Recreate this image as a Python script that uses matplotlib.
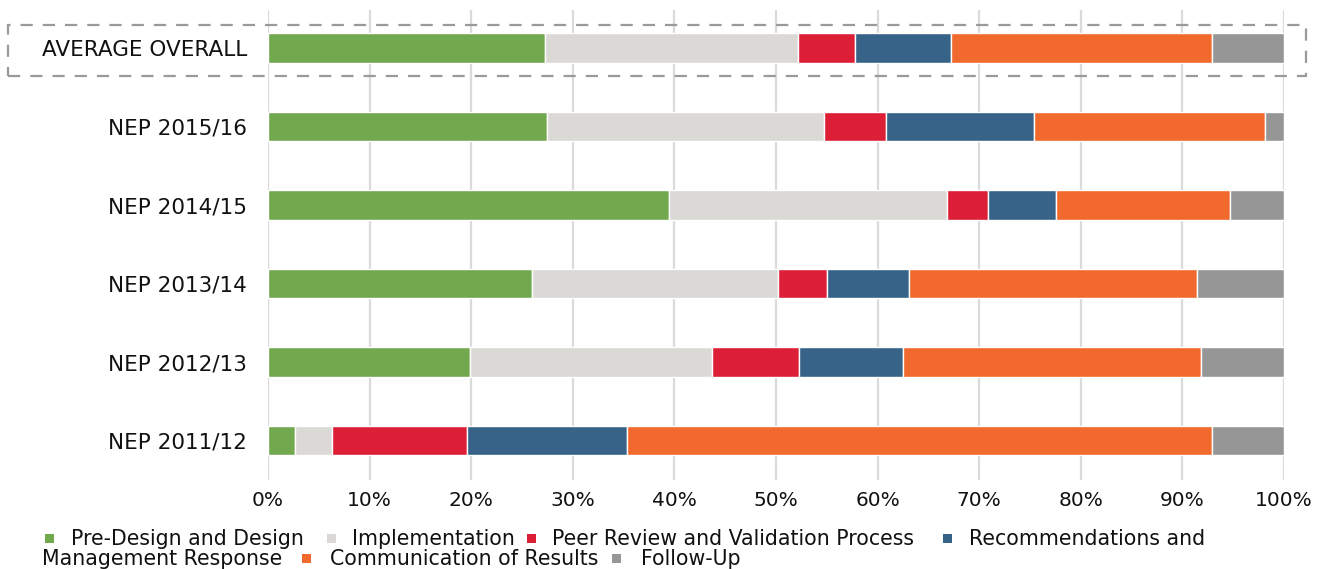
import matplotlib
matplotlib.use("Agg")
import matplotlib.pyplot as plt
from matplotlib.patches import Rectangle
import numpy as np

plt.rcParams['font.family'] = ['DejaVu Sans']

categories = ["AVERAGE OVERALL", "NEP 2015/16", "NEP 2014/15", "NEP 2013/14", "NEP 2012/13", "NEP 2011/12"]
series_names = ["Pre-Design and Design", "Implementation", "Peer Review and Validation Process",
                "Recommendations and Management Response", "Communication of Results", "Follow-Up"]
pre_design = [27.3, 27.5, 39.5, 26.0, 19.9, 2.67]
implementation = [24.85, 27.25, 27.3, 24.2, 23.8, 3.6]
peer_review = [5.65, 6.05, 4.1, 4.8, 8.55, 13.3]
recommendations = [9.4, 14.6, 6.7, 8.1, 10.25, 15.8]
communication = [25.7, 22.7, 17.1, 28.3, 29.3, 57.5]
follow_up = [7.1, 1.9, 5.3, 8.6, 8.2, 7.1]
x_ticks = [0, 10, 20, 30, 40, 50, 60, 70, 80, 90, 100]
x_tick_labels = ["0%", "10%", "20%", "30%", "40%", "50%", "60%", "70%", "80%", "90%", "100%"]

colors = ["#72A84E", "#DAD9D5", "#DC1F36", "#376389", "#F2692E", "#969696"]
series = [pre_design, implementation, peer_review, recommendations, communication, follow_up]

W, H = 1329, 569
fig = plt.figure(figsize=(W / 100, H / 100), dpi=100)
ax = fig.add_axes([268 / W, 1 - 480 / H, (1284 - 268) / W, (480 - 10) / H])

y = np.arange(len(categories))
left = np.zeros(len(categories))
for vals, col, name in zip(series, colors, series_names):
    ax.barh(y, vals, left=left, height=0.376, color=col, edgecolor="white",
            linewidth=1.0, label=name, zorder=3)
    left += np.array(vals)

ax.set_xlim(0, 100)
ax.set_ylim(5.503, -0.484)
ax.set_yticks(y)
ax.set_yticklabels(categories, fontsize=15.5, color="#111111")
ax.set_xticks(x_ticks)
ax.set_xticklabels(x_tick_labels, fontsize=14.5, color="#111111")
ax.tick_params(axis="both", length=0)
ax.tick_params(axis="y", pad=15)
ax.tick_params(axis="x", pad=8)
for s in ax.spines.values():
    s.set_visible(False)
ax.grid(axis="x", color="#DADADA", linewidth=1.6, zorder=0)
ax.set_axisbelow(True)

# dashed box around average row
box = Rectangle((8 / W, 1 - 76 / H), (1306 - 8) / W, (76 - 25) / H, transform=fig.transFigure,
                fill=False, edgecolor="#9A9A9A", linewidth=1.6, linestyle=(0, (5.5, 4.5)), zorder=5)
fig.patches.append(box)

# legend, laid out in two wrapped rows
fs = 14.8
def sq(xp, yb, col):
    fig.patches.append(Rectangle((xp / W, 1 - (yb - 2) / H), 9 / W, 9 / H,
                                 transform=fig.transFigure, color=col, lw=0))
def txt(xp, yb, s):
    fig.text(xp / W, 1 - yb / H, s, fontsize=fs, va="baseline", ha="left", color="#111111")

r1, r2 = 545, 565
sq(45, r1, colors[0]); txt(71, r1, series_names[0])
sq(327, r1, colors[1]); txt(352, r1, series_names[1])
sq(527, r1, colors[2]); txt(552, r1, series_names[2])
sq(943, r1, colors[3]); txt(969, r1, "Recommendations and")
txt(42, r2, "Management Response")
sq(302, r2, colors[4]); txt(330, r2, series_names[4])
sq(612, r2, colors[5]); txt(641, r2, series_names[5])

fig.savefig("out.png", dpi=100, facecolor="white")
